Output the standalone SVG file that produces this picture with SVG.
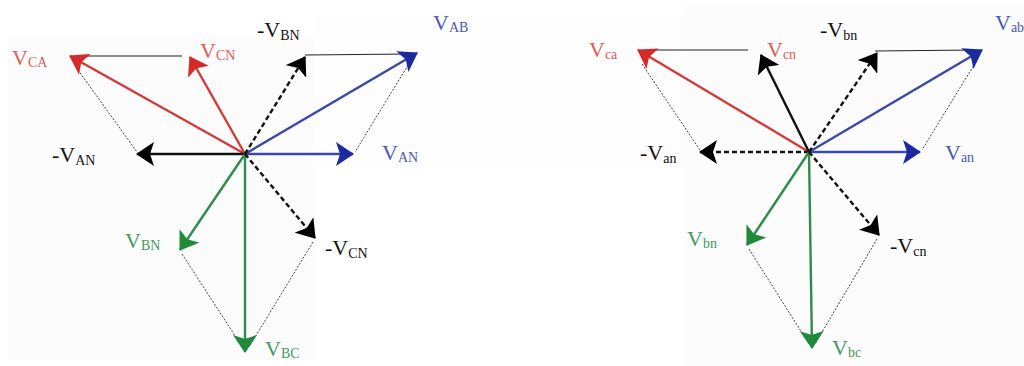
<svg xmlns="http://www.w3.org/2000/svg" width="1024" height="366" viewBox="0 0 1024 366">
<defs>
<style>
.lbl{font-family:"Liberation Serif","Times New Roman",serif;font-size:22px}
.sub{font-size:14px}
.red{fill:#e05a5a}.blue{fill:#4a58b0}.green{fill:#3f9a62}.blk{fill:#111}
.ar{stroke-width:2.4;fill:none}
.r{stroke:#d43a3a}.b{stroke:#3a48a8}.g{stroke:#2f8c4a}.k{stroke:#111}
.dash{stroke-dasharray:5 3}
.thin{stroke:#222;stroke-width:1;fill:none}
.dot{stroke:#444;stroke-width:1;stroke-dasharray:2 1.5;fill:none}
</style>
<marker id="mr" markerUnits="userSpaceOnUse" markerWidth="18" markerHeight="24" refX="17" refY="12" orient="auto"><path d="M0,0 L18,12 L0,24 L4,12 z" fill="#d42a2a"/></marker>
<marker id="mb" markerUnits="userSpaceOnUse" markerWidth="18" markerHeight="24" refX="17" refY="12" orient="auto"><path d="M0,0 L18,12 L0,24 L4,12 z" fill="#1c2aa0"/></marker>
<marker id="mg" markerUnits="userSpaceOnUse" markerWidth="18" markerHeight="24" refX="17" refY="12" orient="auto"><path d="M0,0 L18,12 L0,24 L4,12 z" fill="#1f8a3a"/></marker>
<marker id="mk" markerUnits="userSpaceOnUse" markerWidth="18" markerHeight="24" refX="17" refY="12" orient="auto"><path d="M0,0 L18,12 L0,24 L4,12 z" fill="#000"/></marker>
</defs>
<rect width="1024" height="366" fill="#fff"/>
<rect x="8" y="36" width="307" height="324" fill="#fcfcfc"/>
<rect x="317" y="15" width="195" height="153" fill="#fdfdfd"/>
<rect x="683" y="5" width="341" height="361" fill="#fcfcfc"/>
<rect x="512" y="17" width="171" height="151" fill="#fdfdfd"/>

<g id="connectors">
<line class="thin" x1="80" y1="56" x2="182" y2="56"/>
<line class="thin" x1="305" y1="55" x2="410" y2="54"/>
<line class="dot" x1="78" y1="70" x2="137" y2="152"/>
<line class="dot" x1="410" y1="62" x2="355" y2="152"/>
<line class="dot" x1="182" y1="254" x2="243" y2="348"/>
<line class="dot" x1="313" y1="242" x2="249" y2="347"/>
<line class="ar b" x1="245" y1="154" x2="353" y2="154" marker-end="url(#mb)"/>
<line class="ar b" x1="245" y1="154" x2="417" y2="53" marker-end="url(#mb)"/>
<line class="ar r" x1="245" y1="154" x2="70" y2="56" marker-end="url(#mr)"/>
<line class="ar r" x1="245" y1="154" x2="190" y2="57" marker-end="url(#mr)"/>
<line class="ar k dash" x1="245" y1="154" x2="305" y2="57" marker-end="url(#mk)"/>
<line class="ar k" x1="245" y1="154" x2="137" y2="154" stroke-width="1.6" marker-end="url(#mk)"/>
<line class="ar g" x1="245" y1="154" x2="180" y2="250" marker-end="url(#mg)"/>
<line class="ar g" x1="245" y1="154" x2="245" y2="352" stroke-width="1.8" marker-end="url(#mg)"/>
<line class="ar k dash" x1="245" y1="154" x2="315" y2="238" marker-end="url(#mk)"/>
<line class="thin" x1="648" y1="50" x2="748" y2="50"/>
<line class="thin" x1="875" y1="51" x2="975" y2="50"/>
<line class="dot" x1="642" y1="64" x2="700" y2="150"/>
<line class="dot" x1="977" y1="60" x2="922" y2="150"/>
<line class="dot" x1="749" y1="249" x2="809" y2="344"/>
<line class="dot" x1="877" y1="239" x2="815" y2="344"/>
<line class="ar b" x1="809" y1="152" x2="920" y2="152" marker-end="url(#mb)"/>
<line class="ar b" x1="809" y1="152" x2="982" y2="50" marker-end="url(#mb)"/>
<line class="ar r" x1="809" y1="152" x2="638" y2="50" marker-end="url(#mr)"/>
<line class="ar k" x1="809" y1="152" x2="761" y2="55" marker-end="url(#mk)"/>
<line class="ar k dash" x1="809" y1="152" x2="877" y2="53" marker-end="url(#mk)"/>
<line class="ar k dash" x1="809" y1="152" x2="700" y2="152" stroke-width="1.8" marker-end="url(#mk)"/>
<line class="ar g" x1="809" y1="152" x2="747" y2="245" marker-end="url(#mg)"/>
<line class="ar g" x1="809" y1="152" x2="812" y2="348" stroke-width="1.8" marker-end="url(#mg)"/>
<line class="ar k dash" x1="809" y1="152" x2="879" y2="235" marker-end="url(#mk)"/>
</g>

<g id="labels-left">
<text id="VCA" class="lbl red" x="12" y="65">V<tspan class="sub" dy="2">CA</tspan></text>
<text id="VCN" class="lbl red" x="200" y="58">V<tspan class="sub" dy="2">CN</tspan></text>
<text id="mVBN" class="lbl blk" x="257" y="37">-V<tspan class="sub" dy="3">BN</tspan></text>
<text id="VAB" class="lbl blue" x="433" y="30">V<tspan class="sub" dy="2">AB</tspan></text>
<text id="mVAN" class="lbl blk" x="52" y="162">-V<tspan class="sub" dy="3">AN</tspan></text>
<text id="VAN" class="lbl blue" x="382" y="160">V<tspan class="sub" dy="2">AN</tspan></text>
<text id="VBN" class="lbl green" x="125" y="248">V<tspan class="sub" dy="2">BN</tspan></text>
<text id="mVCN" class="lbl blk" x="325" y="255">-V<tspan class="sub" dy="3">CN</tspan></text>
<text id="VBC" class="lbl green" x="265" y="356">V<tspan class="sub" dy="2">BC</tspan></text>
</g>
<g id="labels-right">
<text id="Vca" class="lbl red" x="589" y="57">V<tspan class="sub" dy="2">ca</tspan></text>
<text id="Vcn" class="lbl red" x="767" y="57">V<tspan class="sub" dy="2">cn</tspan></text>
<text id="mVbn" class="lbl blk" x="820" y="37">-V<tspan class="sub" dy="3">bn</tspan></text>
<text id="Vab" class="lbl blue" x="995" y="30">V<tspan class="sub" dy="2">ab</tspan></text>
<text id="mVan" class="lbl blk" x="640" y="160">-V<tspan class="sub" dy="3">an</tspan></text>
<text id="Van" class="lbl blue" x="945" y="160">V<tspan class="sub" dy="2">an</tspan></text>
<text id="Vbn" class="lbl green" x="687" y="246">V<tspan class="sub" dy="2">bn</tspan></text>
<text id="mVcn" class="lbl blk" x="890" y="253">-V<tspan class="sub" dy="3">cn</tspan></text>
<text id="Vbc" class="lbl green" x="832" y="355">V<tspan class="sub" dy="2">bc</tspan></text>
</g>
</svg>
